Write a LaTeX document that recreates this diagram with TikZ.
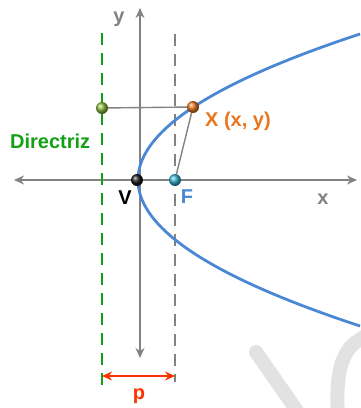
\documentclass[tikz,border=0pt]{standalone}
\usepackage{fontspec}
\setmainfont{Liberation Sans}
\usetikzlibrary{arrows.meta}
\definecolor{axisgray}{RGB}{130,130,130}
\definecolor{parblue}{RGB}{74,136,214}
\definecolor{dirgreen}{RGB}{20,160,20}
\definecolor{xorange}{RGB}{232,118,30}
\definecolor{pred}{RGB}{255,51,0}
\definecolor{wmgray}{RGB}{226,226,226}
\definecolor{ballgreen}{RGB}{140,185,60}
\definecolor{ballcyan}{RGB}{50,175,205}
\tikzset{
  axis/.style={draw=axisgray, line width=1.6pt, {Stealth[length=10pt,width=9pt]}-{Stealth[length=10pt,width=9pt]}},
  dirline/.style={draw=dirgreen, line width=2.8pt, dash pattern=on 12pt off 8pt},
  focline/.style={draw=axisgray, line width=2.8pt, dash pattern=on 12pt off 8pt},
  thin gray/.style={draw=axisgray, line width=1.4pt},
  ball/.style={circle, inner sep=0pt, minimum size=12pt, shading=ball},
  lbl/.style={font=\bfseries\fontsize{20}{22}\selectfont, inner sep=0pt},
}
\begin{document}
\begin{tikzpicture}[x=1pt,y=-1pt]
\useasboundingbox (0,0) rectangle (360,408);
% watermark
\draw[wmgray, line width=14pt, line cap=round] (256,352) -- (300,415);
\draw[wmgray, line width=14pt, line cap=round] (338,415) .. controls (336,385) and (338,355) .. (356,342) -- (365,336);
% coordinates
\coordinate (xl) at (14,180);
\coordinate (xr) at (357,180);
\coordinate (yt) at (140,8);
\coordinate (yb) at (140,358);
\coordinate (dt) at (102,33);
\coordinate (db) at (102,392);
\coordinate (ft) at (175,34);
\coordinate (fb) at (175,382);
\coordinate (pl) at (102,376);
\coordinate (pr) at (175,376);
% axes
\draw[axis] (xl) -- (xr);
\draw[axis] (yt) -- (yb);
% dashed lines
\draw[dirline] (dt) -- (db);
\draw[focline] (ft) -- (fb);
% parabola
\draw[parblue, line width=2.8pt] plot[domain=-146:146, samples=120, smooth] ({138+(\x/10)*(\x/10)/0.96},{180+\x});
% points
\node[ball, ball color=xorange] (X) at (193,107) {};
\node[ball, ball color=ballgreen] (D) at (102,108) {};
\node[ball, ball color=ballcyan] (F) at (175,180) {};
\node[ball, ball color=black!90] (V) at (137,180) {};
% connectors
\draw[thin gray] (D) -- (X);
\draw[thin gray] (X) -- (F);
\draw[pred, line width=1.8pt, {Stealth[length=10pt,width=9pt]}-{Stealth[length=10pt,width=9pt]}] (pl) -- (pr);
% labels
\node[lbl, text=dirgreen, anchor=west] (dl) at (10,141) {Directriz};
\node[lbl, text=xorange, anchor=west] (xl2) at (205,121) {X (x, y)};
\node[lbl, text=black] (vl) at (125,198) {V};
\node[lbl, text=parblue] (fl) at (187,197) {F};
\node[lbl, text=axisgray] (xa) at (323,199) {x};
\node[lbl, text=axisgray] (ya) at (119,19) {y};
\node[lbl, text=pred] (pp) at (139,396) {p};
\end{tikzpicture}
\end{document}
